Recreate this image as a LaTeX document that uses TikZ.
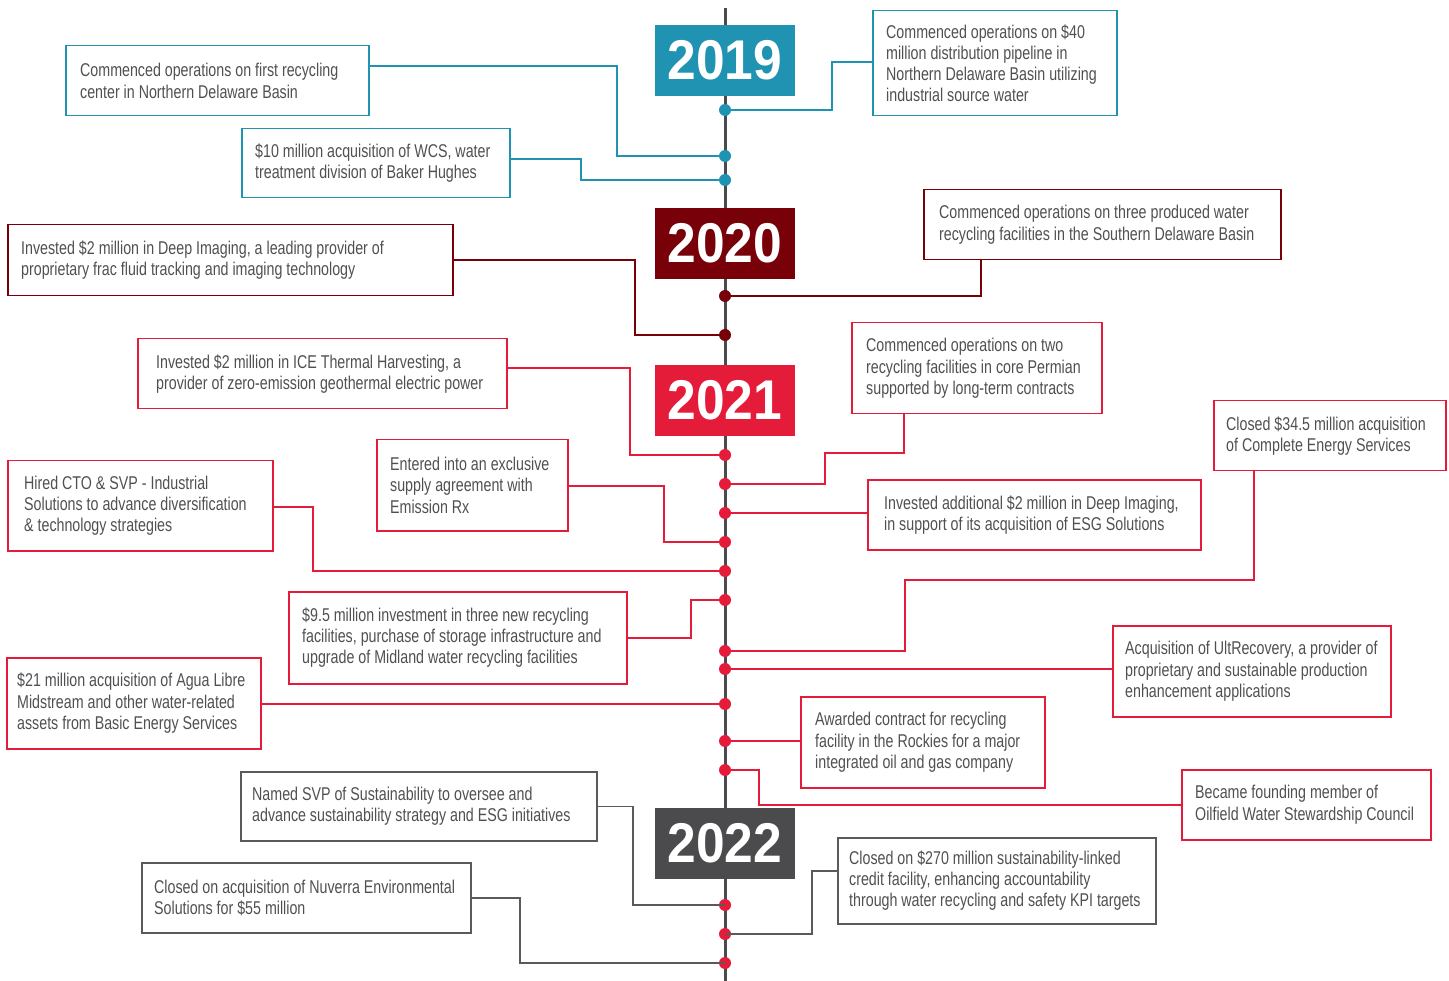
\documentclass[tikz,border=0pt]{standalone}
\usepackage{fontspec}
\setmainfont{Liberation Sans}[FakeStretch=0.77]
\newfontfamily\yearfont{Liberation Sans}[FakeStretch=0.92]
\definecolor{cteal}{HTML}{1F93B1}
\definecolor{cdark}{HTML}{770009}
\definecolor{cred}{HTML}{E41C3A}
\definecolor{cgray}{HTML}{4B4B4D}
\definecolor{cline}{HTML}{5A5A5C}
\definecolor{txtgray}{HTML}{505052}
\newcommand\evfont{\fontsize{18.5}{21.3}\selectfont}
\begin{document}
\begin{tikzpicture}[x=1pt,y=-1pt,
  evbox/.style={draw=#1, line width=1.5pt, rectangle, inner sep=0pt, anchor=north west},
  evtext/.style={anchor=west, inner sep=0pt, align=left, text=txtgray, font=\evfont},
  yearbox/.style={fill=#1, minimum width=140pt, minimum height=71pt, inner sep=0pt, text=white,
    font=\yearfont\bfseries\fontsize{56}{56}\selectfont},
  dotn/.style={circle, fill=#1, minimum size=12pt, inner sep=0pt},
  conn/.style={draw=#1, line width=1.5pt},
  tline/.style={draw=cgray, line width=3pt}]
\useasboundingbox (0,0) rectangle (1449,981);

% timeline
\coordinate (ttop) at (725,8);
\coordinate (tbot) at (725,981);
\draw[tline] (ttop) -- (tbot);

% year boxes
\node[yearbox=cteal] (y19) at (725,60.5) {2019};
\node[yearbox=cdark] (y20) at (725,243.5) {2020};
\node[yearbox=cred]  (y21) at (725,400.5) {2021};
\node[yearbox=cgray] (y22) at (725,843.5) {2022};

% dots
\node[dotn=cteal] (d1) at (725,110) {};
\node[dotn=cteal] (d2) at (725,156) {};
\node[dotn=cteal] (d3) at (725,180) {};
\node[dotn=cdark] (d4) at (725,296) {};
\node[dotn=cdark] (d5) at (725,335) {};
\node[dotn=cred] (d6) at (725,455) {};
\node[dotn=cred] (d7) at (725,484) {};
\node[dotn=cred] (d8) at (725,513) {};
\node[dotn=cred] (d9) at (725,542) {};
\node[dotn=cred] (d10) at (725,571) {};
\node[dotn=cred] (d11) at (725,600) {};
\node[dotn=cred] (d12) at (725,651) {};
\node[dotn=cred] (d13) at (725,669) {};
\node[dotn=cred] (d14) at (725,704) {};
\node[dotn=cred] (d15) at (725,741) {};
\node[dotn=cred] (d16) at (725,770) {};
\node[dotn=cred] (d17) at (725,905) {};
\node[dotn=cred] (d18) at (725,934) {};
\node[dotn=cred] (d19) at (725,963) {};

% 2019 boxes
\node[evbox=cteal, minimum width=303pt, minimum height=70pt] (b1) at (65,45) {};
\node[evtext] (t1) at ([xshift=15pt]b1.west) {Commenced operations on first recycling\\center in Northern Delaware Basin};
\node[evbox=cteal, minimum width=268pt, minimum height=69pt] (b2) at (241,128) {};
\node[evtext] (t2) at ([xshift=14pt]b2.west) {\$10 million acquisition of WCS, water\\treatment division of Baker Hughes};
\node[evbox=cteal, minimum width=244pt, minimum height=105pt] (b3) at (872,10) {};
\node[evtext] (t3) at ([xshift=14pt]b3.west) {Commenced operations on \$40\\million distribution pipeline in\\Northern Delaware Basin utilizing\\industrial source water};

% 2020 boxes
\node[evbox=cdark, minimum width=445pt, minimum height=71pt] (b4) at (7,224) {};
\node[evtext] (t4) at ([xshift=14pt]b4.west) {Invested \$2 million in Deep Imaging, a leading provider of\\proprietary frac fluid tracking and imaging technology};
\node[evbox=cdark, minimum width=357pt, minimum height=70pt] (b5) at (923,189) {};
\node[evtext] (t5) at ([xshift=16pt]b5.west) {Commenced operations on three produced water\\recycling facilities in the Southern Delaware Basin};

% 2021 boxes
\node[evbox=cred, minimum width=369pt, minimum height=70pt] (b6) at (137,338) {};
\node[evtext] (t6) at ([xshift=19pt]b6.west) {Invested \$2 million in ICE Thermal Harvesting, a\\provider of zero-emission geothermal electric power};
\node[evbox=cred, minimum width=250pt, minimum height=91pt] (b7) at (851,322) {};
\node[evtext] (t7) at ([xshift=15pt]b7.west) {Commenced operations on two\\recycling facilities in core Permian\\supported by long-term contracts};
\node[evbox=cred, minimum width=191pt, minimum height=91pt] (b8) at (376,439) {};
\node[evtext] (t8) at ([xshift=14pt]b8.west) {Entered into an exclusive\\supply agreement with\\Emission Rx};
\node[evbox=cred, minimum width=265pt, minimum height=90pt] (b9) at (7,460) {};
\node[evtext] (t9) at ([xshift=17pt]b9.west) {Hired CTO \& SVP - Industrial\\Solutions to advance diversification\\\& technology strategies};
\node[evbox=cred, minimum width=333pt, minimum height=70pt] (b10) at (867,479) {};
\node[evtext] (t10) at ([xshift=17pt]b10.west) {Invested additional \$2 million in Deep Imaging,\\in support of its acquisition of ESG Solutions};
\node[evbox=cred, minimum width=232pt, minimum height=70pt] (b11) at (1213,400) {};
\node[evtext] (t11) at ([xshift=13pt]b11.west) {Closed \$34.5 million acquisition\\of Complete Energy Services};
\node[evbox=cred, minimum width=338pt, minimum height=92pt] (b12) at (288,591) {};
\node[evtext] (t12) at ([xshift=14pt]b12.west) {\$9.5 million investment in three new recycling\\facilities, purchase of storage infrastructure and\\upgrade of Midland water recycling facilities};
\node[evbox=cred, minimum width=278pt, minimum height=91pt] (b13) at (1112,625) {};
\node[evtext] (t13) at ([xshift=13pt]b13.west) {Acquisition of UltRecovery, a provider of\\proprietary and sustainable production\\enhancement applications};
\node[evbox=cred, minimum width=254pt, minimum height=91pt] (b14) at (6,657) {};
\node[evtext] (t14) at ([xshift=11pt]b14.west) {\$21 million acquisition of Agua Libre\\Midstream and other water-related\\assets from Basic Energy Services};
\node[evbox=cred, minimum width=244pt, minimum height=91pt] (b15) at (800,696) {};
\node[evtext] (t15) at ([xshift=15pt]b15.west) {Awarded contract for recycling\\facility in the Rockies for a major\\integrated oil and gas company};
\node[evbox=cred, minimum width=249pt, minimum height=70pt] (b16) at (1181,769) {};
\node[evtext] (t16) at ([xshift=14pt]b16.west) {Became founding member of\\Oilfield Water Stewardship Council};

% 2022 boxes
\node[evbox=cline, minimum width=356pt, minimum height=69pt] (b17) at (240,771) {};
\node[evtext] (t17) at ([xshift=12pt]b17.west) {Named SVP of Sustainability to oversee and\\advance sustainability strategy and ESG initiatives};
\node[evbox=cline, minimum width=318pt, minimum height=86pt] (b18) at (837,837) {};
\node[evtext] (t18) at ([xshift=12pt]b18.west) {Closed on \$270 million sustainability-linked\\credit facility, enhancing accountability\\through water recycling and safety KPI targets};
\node[evbox=cline, minimum width=329pt, minimum height=70pt] (b19) at (141,862) {};
\node[evtext] (t19) at ([xshift=13pt]b19.west) {Closed on acquisition of Nuverra Environmental\\Solutions for \$55 million};

% connectors 2019
\draw[conn=cteal] ([yshift=-21pt]b1.north east) -| ([xshift=-108pt]d2.center) -- (d2.center);
\draw[conn=cteal] ([yshift=-31pt]b2.north east) -| ([xshift=-144pt]d3.center) -- (d3.center);
\draw[conn=cteal] ([yshift=-52pt]b3.north west) -| ([xshift=107pt]d1.center) -- (d1.center);
% connectors 2020
\draw[conn=cdark] ([yshift=-36pt]b4.north east) -| ([xshift=-90pt]d5.center) -- (d5.center);
\draw[conn=cdark] ([xshift=58pt]b5.south west) |- (d4.center);
% connectors 2021
\draw[conn=cred] ([yshift=-30pt]b6.north east) -| ([xshift=-95pt]d6.center) -- (d6.center);
\draw[conn=cred] ([xshift=53pt]b7.south west) |- ([xshift=100pt,yshift=31pt]d7.center) -- ([xshift=100pt]d7.center) -- (d7.center);
\draw[conn=cred] ([yshift=-47pt]b8.north east) -| ([xshift=-61pt]d9.center) -- (d9.center);
\draw[conn=cred] ([yshift=-47pt]b9.north east) -| ([xshift=-412pt]d10.center) -- (d10.center);
\draw[conn=cred] (d8.center) -- (d8.center -| b10.west);
\draw[conn=cred] ([xshift=41pt]b11.south west) |- ([xshift=180pt,yshift=71pt]d12.center) -- ([xshift=180pt]d12.center) -- (d12.center);
\draw[conn=cred] (b12.east) -| ([xshift=-34pt]d11.center) -- (d11.center);
\draw[conn=cred] (d13.center) -- (d13.center -| b13.west);
\draw[conn=cred] (d14.center) -- (d14.center -| b14.east);
\draw[conn=cred] (d15.center) -- (d15.center -| b15.west);
\draw[conn=cred] (b16.west) -| ([xshift=34pt]d16.center) -- (d16.center);
% connectors 2022
\draw[conn=cline] (b17.east) -| ([xshift=-92pt]d17.center) -- (d17.center);
\draw[conn=cline] ([yshift=-34pt]b18.north west) -| ([xshift=87pt]d18.center) -- (d18.center);
\draw[conn=cline] (b19.east) -| ([xshift=-205pt]d19.center) -- (d19.center);
\end{tikzpicture}
\end{document}
